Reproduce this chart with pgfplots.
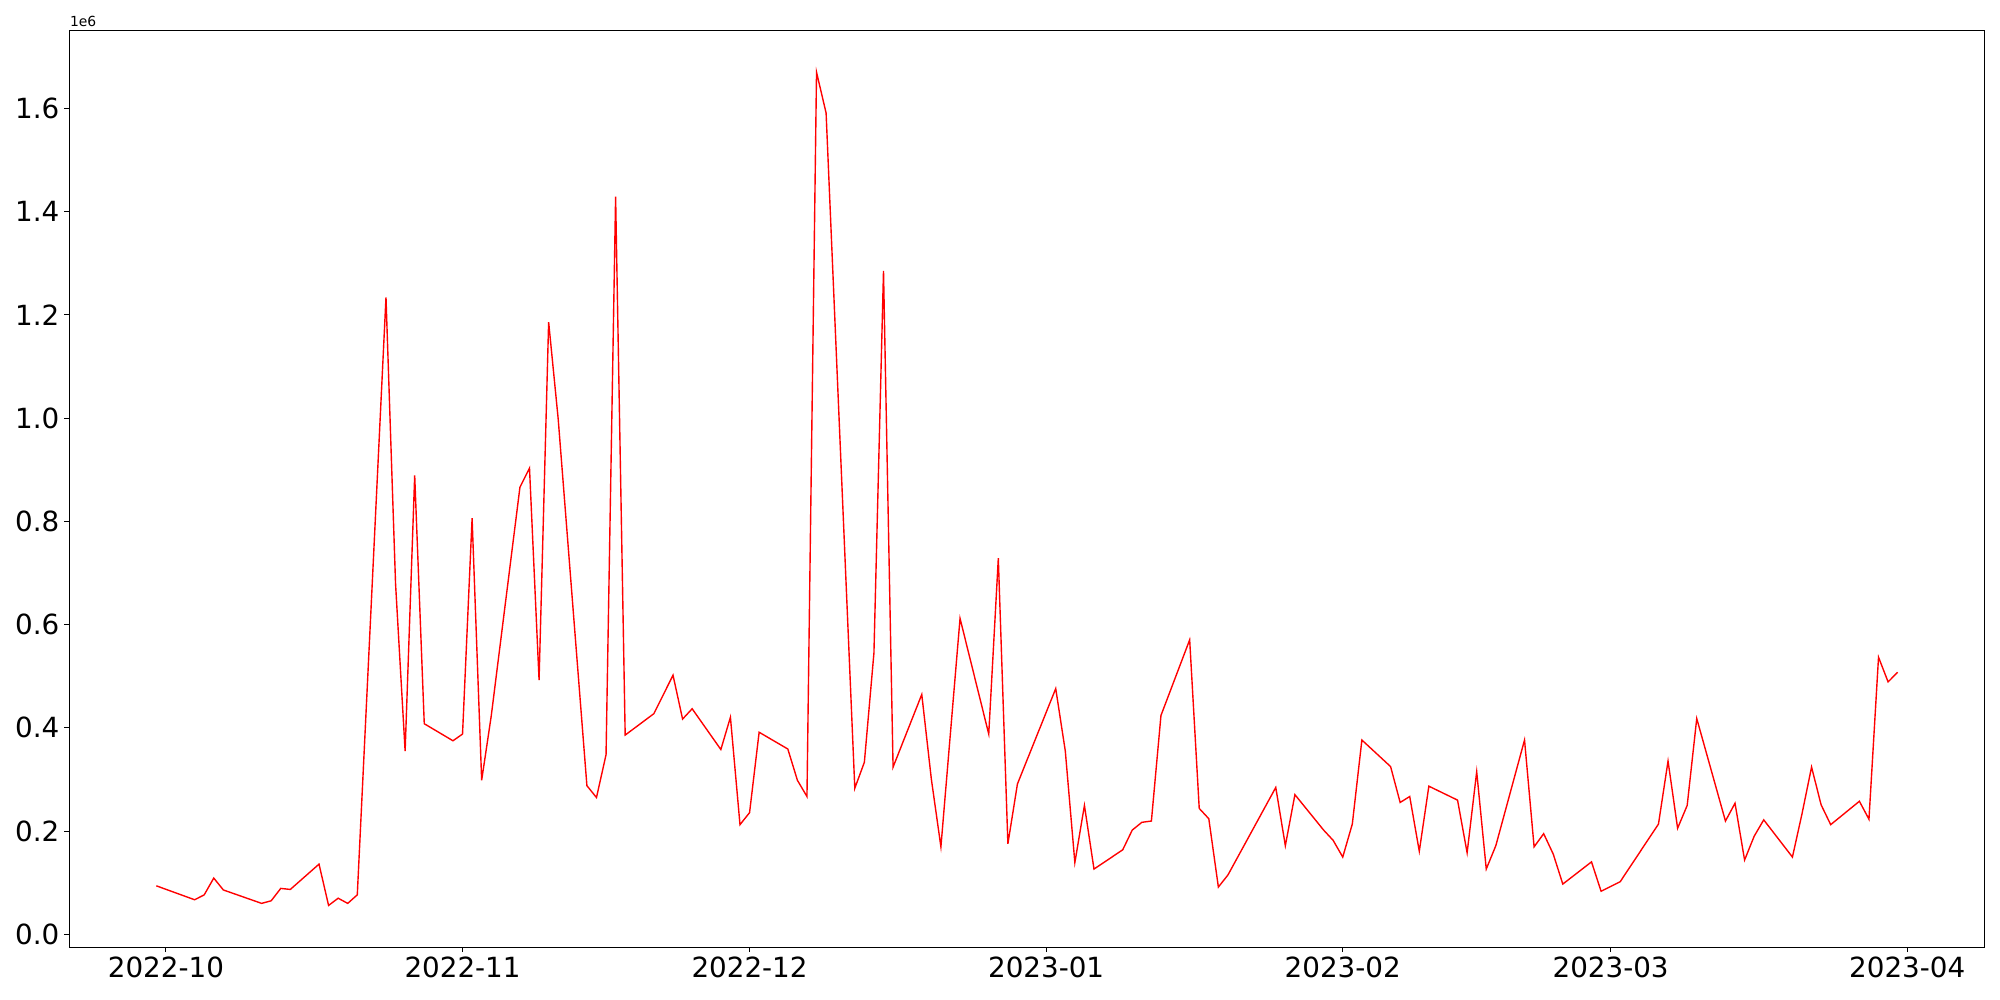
\documentclass[border=0pt]{standalone}
\usepackage{fontspec}
\setmainfont{DejaVu Sans}
\usepackage{pgfplots}
\pgfplotsset{compat=1.18}
\begin{document}
\begin{tikzpicture}
\begin{axis}[
  name=ax,
  scale only axis,
  width=1379.1pt, height=660.2pt,
  xmin=-10.1, xmax=190.1, ymin=-0.0252, ymax=1.751,
  axis line style={line width=0.8pt},
  xtick={0,31,61,92,123,151,182},
  xticklabels={2022-10,2022-11,2022-12,2023-01,2023-02,2023-03,2023-04},
  ytick={0,0.2,0.4,0.6,0.8,1.0,1.2,1.4,1.6},
  scaled y ticks=false,
  yticklabel style={/pgf/number format/fixed, /pgf/number format/fixed zerofill, /pgf/number format/precision=1, xshift=-3.5pt},
  /pgf/number format/assume math mode=true,
  tick label style={font=\fontsize{20}{24}\selectfont, inner sep=0pt},
  xticklabel style={yshift=-3.5pt},
  tick align=outside,
  major tick length=3.5pt,
  tick style={line width=0.8pt, black},
  xtick pos=left, ytick pos=left,
  minor tick num=0,
]
\addplot[color=red, line width=1pt] coordinates {
(-1,0.094) (3,0.067) (4,0.0765) (5,0.109) (6,0.086) (10,0.060) (11,0.065) (12,0.089) (13,0.087)
(16,0.136) (17,0.056) (18,0.070) (19,0.060) (20,0.0765)
(23,1.234) (24,0.679) (25,0.355) (26,0.889) (27,0.408)
(30,0.375) (31,0.388) (32,0.806) (33,0.2985) (34,0.423)
(37,0.866) (38,0.903) (39,0.4926) (40,1.186) (41,0.998)
(44,0.288) (45,0.265) (46,0.348) (47,1.429) (48,0.386)
(51,0.4275) (53,0.502) (54,0.417) (55,0.437)
(58,0.358) (59,0.4205) (60,0.2125) (61,0.2357) (62,0.3915)
(65,0.359) (66,0.2985) (67,0.267) (68,1.670) (69,1.591)
(72,0.283) (73,0.3334) (74,0.545) (75,1.285) (76,0.324)
(79,0.4647) (80,0.3008) (81,0.1695) (83,0.612)
(86,0.388) (87,0.7285) (88,0.1753) (89,0.2915)
(93,0.476) (94,0.3554) (95,0.139) (96,0.2497) (97,0.1265)
(100,0.1637) (101,0.202) (102,0.217) (103,0.2195) (104,0.424)
(107,0.5705) (108,0.2439) (109,0.224) (110,0.0916) (111,0.115)
(116,0.2846) (117,0.1718) (118,0.2706)
(121,0.202) (122,0.182) (123,0.1497) (124,0.2137) (125,0.3764)
(128,0.325) (129,0.2555) (130,0.267) (131,0.161) (132,0.287)
(135,0.260) (136,0.158) (137,0.315) (138,0.1265) (139,0.1718)
(142,0.3764) (143,0.1695) (144,0.195) (145,0.1555) (146,0.0974)
(149,0.1404) (150,0.0835) (152,0.102)
(156,0.2137) (157,0.3357) (158,0.2055) (159,0.2497) (160,0.418)
(163,0.2195) (164,0.254) (165,0.144) (166,0.190) (167,0.2218)
(170,0.1497) (171,0.2334) (172,0.324) (173,0.2508) (174,0.2125)
(177,0.2578) (178,0.223) (179,0.5368) (180,0.489) (181,0.5077)
};
\end{axis}
\node[anchor=base west, inner sep=0pt, font=\fontsize{10}{12}\selectfont] at (0.3pt,663.3pt) {1e6};
\pgfresetboundingbox
\path (-49.9pt,-37.9pt) rectangle (1390.1pt,682.1pt);
\end{tikzpicture}
\end{document}
